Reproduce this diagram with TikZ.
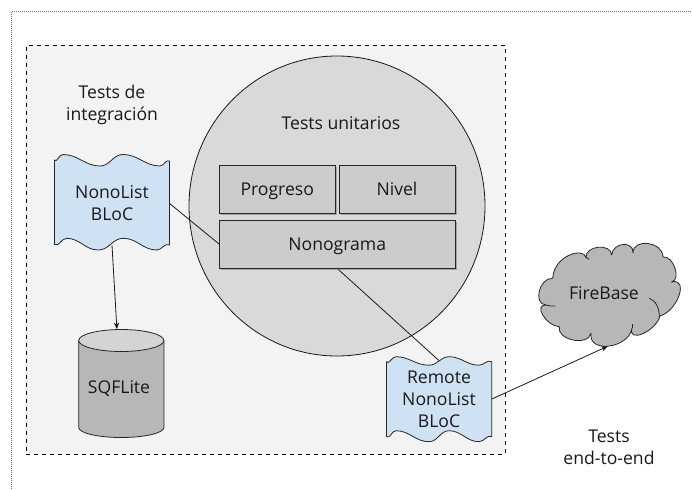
\documentclass[tikz,border=0pt]{standalone}
\usepackage{fontspec}
\setmainfont{Open Sans}
\usetikzlibrary{shadows,backgrounds,shapes.geometric,arrows.meta}
\definecolor{wavefill}{HTML}{CFE2F3}
\definecolor{boxfill}{HTML}{CCCCCC}
\definecolor{circlefill}{HTML}{D9D9D9}
\definecolor{zonefill}{HTML}{F3F3F3}
\definecolor{darkfill}{HTML}{B7B7B7}
\definecolor{topfill}{HTML}{D4D4D4}
\tikzset{
  caption/.style={align=center,font=\fontsize{13.2}{16.4}\selectfont,text=black!90,inner sep=0pt},
  testbox/.style={caption,draw=black!85,line width=0.7pt,fill=boxfill,minimum height=36pt,text height=12pt,text depth=2pt,
    drop shadow={shadow xshift=1.2pt,shadow yshift=-1.2pt,opacity=0.6}},
  shapeline/.style={draw=black!85,line width=0.6pt,line join=round},
  wavedoc/.style={shapeline,fill=wavefill},
  link/.style={draw=black!90,line width=0.6pt},
  linkarrow/.style={link,-{Stealth[length=5pt,width=4pt]}}
}
\begin{document}
\begin{tikzpicture}[x=0.75pt,y=-0.75pt]%
\useasboundingbox (0,0) rectangle (692,489);%
\begin{scope}[on background layer]%
\draw[black!55,densely dotted,line width=0.5pt] (11.5,489) -- (11.5,11.5) -- (692,11.5);%
\node[draw=black,dashed,line width=0.6pt,fill=zonefill,inner sep=0pt,minimum width=358.9pt,minimum height=306.8pt] (zone) at (265.75,250) {};%
\node[draw=black!90,line width=0.6pt,fill=circlefill,ellipse,inner sep=0pt,minimum width=222pt,minimum height=225pt] (unitarios) at (337,206) {};%
\end{scope}%
%
\node[testbox,minimum width=86.6pt] (progreso) at (277.25,189) {Progreso};%
\node[testbox,minimum width=87pt] (nivel) at (397,189) {Nivel};%
\node[testbox,minimum width=176.6pt] (nonograma) at (337.25,244) {Nonograma};%
%
\def\xpos{54.5};%
\def\ypos{160};%
\draw[wavedoc] (\xpos,\ypos) to[out=-60,in=180] (\xpos+8.5,\ypos-5.5) to[out=0,in=180] (\xpos+45.5,\ypos+6) to[out=0,in=180] (\xpos+68.5,\ypos-5.5) to[out=0,in=180] (\xpos+105.5,\ypos+6) to[out=0,in=150] (\xpos+115,\ypos+1) -- (\xpos+115,\ypos+85) to[out=150,in=0] (\xpos+102.2,\ypos+90) to[out=180,in=0] (\xpos+68.8,\ypos+78.3) to[out=180,in=0] (\xpos+43.8,\ypos+90) to[out=180,in=0] (\xpos+12.2,\ypos+78.3) to[out=180,in=-30] (\xpos,\ypos+84.5) -- cycle;%
\node[caption,minimum width=86pt,minimum height=62.3pt] (nonolist) at (112,203.5) {NonoList\\BLoC};%
%
\def\xpos{386.5};%
\def\ypos{361.7};%
\draw[wavedoc] (\xpos,\ypos) to[out=-60,in=180] (\xpos+9.5,\ypos-5) to[out=0,in=180] (\xpos+42.5,\ypos+3.5) to[out=0,in=180] (\xpos+62.5,\ypos-5) to[out=0,in=180] (\xpos+92.5,\ypos+3.5) to[out=0,in=150] (\xpos+105.2,\ypos) -- (\xpos+105.2,\ypos+75) to[out=150,in=0] (\xpos+92.5,\ypos+80) to[out=180,in=0] (\xpos+62.5,\ypos+69) to[out=180,in=0] (\xpos+42.5,\ypos+80) to[out=180,in=0] (\xpos+9.5,\ypos+69) to[out=180,in=-30] (\xpos,\ypos+75) -- cycle;%
\node[caption,minimum width=79pt,minimum height=57.2pt] (remote) at (439,399) {Remote\\NonoList\\BLoC};%
%
\draw[shapeline,fill=darkfill] (78.7,340.5) -- (78.7,427.5) arc[start angle=180,end angle=0,x radius=42.6,y radius=10] -- (163.9,340.5) -- cycle;%
\draw[shapeline,fill=topfill] (121.3,340.5) ellipse[x radius=42.6,y radius=11];%
\node[caption,minimum width=64pt,minimum height=89.3pt] (sqflite) at (119,389) {SQFLite};%
%
\draw[shapeline,fill=darkfill] (552.7,278.3) .. controls (554,255) and (584,247) .. (586,257.5) .. controls (585.3,245.5) and (611,243) .. (611.7,255) .. controls (612.6,242.3) and (633.9,240.3) .. (633,253) .. controls (633,237.7) and (663,241.7) .. (663,257) .. controls (673.3,255) and (681.8,280) .. (671.5,282) .. controls (688.9,277.3) and (678.4,310.3) .. (660,316) .. controls (656.3,331) and (627.3,344) .. (632,328) .. controls (629,348.5) and (588,353.8) .. (591,333.3) .. controls (588,346.6) and (556.4,340) .. (559.3,326.7) .. controls (546.4,326.2) and (533.1,304.5) .. (546,305) .. controls (532.6,304.1) and (539.3,277.4) .. (552.7,278.3) -- cycle;%
\draw[shapeline] (546,305) .. controls (549,306) and (552,306.3) .. (555.3,306);%
\draw[shapeline] (649.3,298.3) .. controls (655,300) and (660,308) .. (659.3,318.3);%
\draw[shapeline] (586,257.5) -- (589.3,259.3);%
\draw[shapeline] (632,328) -- (632,324);%
\node[caption,minimum width=100pt,minimum height=79.5pt] (firebase) at (604,293) {FireBase};%
%
\node[caption] (integracion) at (112,105) {Tests de\\integración};%
\node[caption] (unitarioslabel) at (341,123) {Tests unitarios};%
\node[caption] (endtoend) at (609,447.5) {Tests\\end-to-end};%
%
\begin{scope}[on background layer]%
\draw[link] (nonolist.east) -- (nonograma.west);%
\draw[link] (remote.north) -- (nonograma.south);%
\end{scope}%
\draw[linkarrow] (remote.east) -- (firebase.-86);%
\draw[linkarrow] (nonolist.south) -- (sqflite.92);%
\end{tikzpicture}
\end{document}
